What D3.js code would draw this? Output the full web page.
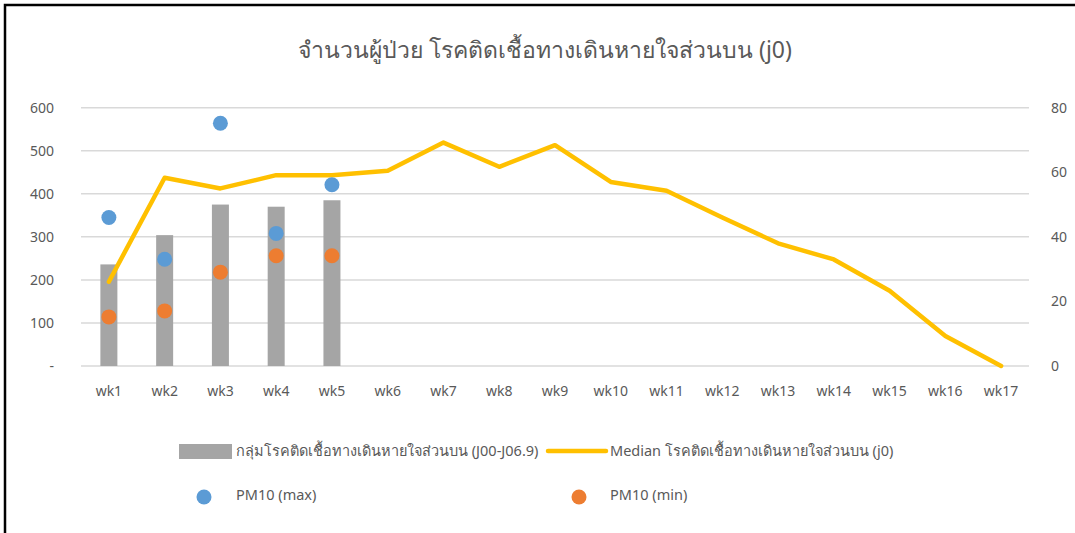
<!DOCTYPE html>
<html>
<head>
<meta charset="utf-8">
<script src="https://cdn.jsdelivr.net/npm/d3@7"></script>
<style>
  body { margin: 0; background: #fff; }
  svg text { font-family: "Noto Sans", "Open Sans", sans-serif; fill: #595959; }
</style>
</head>
<body>
<div id="chart"></div>
<script>
const weeks = d3.range(1, 18).map(d => 'wk' + d);
const patients = [236, 304, 375, 370, 385];
const pm10Max = [345, 248, 564, 308, 421];
const pm10Min = [114, 128, 218, 256, 256];
const median = [26.1, 58.3, 55, 59.1, 59.1, 60.5, 69.2, 61.7, 68.4, 57.0, 54.3, 46, 38.0, 33.0, 23.3, 9.3, 0];
const leftTicks = [0, 100, 200, 300, 400, 500, 600];
const rightTicks = [0, 20, 40, 60, 80];

const W = 1075, H = 533;
const svg = d3.select('#chart').append('svg')
  .attr('width', W).attr('height', H);

// frame (only top + left show in the crop)
svg.append('rect').attr('x', 5).attr('y', 5).attr('width', W + 10).attr('height', H + 10)
  .attr('fill', 'none').attr('stroke', '#000').attr('stroke-width', 2.5);

svg.append('text')
  .attr('x', 545).attr('y', 58)
  .attr('text-anchor', 'middle')
  .attr('font-size', 23)
  .attr('fill', '#666')
  .text('จำนวนผู้ป่วย โรคติดเชื้อทางเดินหายใจส่วนบน (j0)');

const x = d3.scaleBand().domain(weeks).range([81, 1029]);
const yL = d3.scaleLinear().domain([0, 600]).range([366, 107.7]);
const yR = d3.scaleLinear().domain([0, 80]).range([366, 107.7]);

// gridlines
svg.append('g').selectAll('line').data(leftTicks).join('line')
  .attr('x1', 81).attr('x2', 1029)
  .attr('y1', d => yL(d)).attr('y2', d => yL(d))
  .attr('stroke', '#d9d9d9').attr('stroke-width', 1.5);

// left axis labels
const gL = svg.append('g').attr('transform', 'translate(54,0)')
  .call(d3.axisLeft(yL).tickValues(leftTicks).tickSize(0).tickPadding(0)
    .tickFormat(d => d === 0 ? '-' : d));
gL.select('.domain').remove();
gL.selectAll('text').attr('font-size', 14).attr('fill', '#595959');

// right axis labels
const gR = svg.append('g').attr('transform', 'translate(1051,0)')
  .call(d3.axisRight(yR).tickValues(rightTicks).tickSize(0).tickPadding(0));
gR.select('.domain').remove();
gR.selectAll('text').attr('font-size', 14).attr('fill', '#595959');

// x labels
const gX = svg.append('g').attr('transform', 'translate(0,386)')
  .call(d3.axisBottom(x).tickSize(0).tickPadding(0));
gX.select('.domain').remove();
gX.selectAll('text').attr('font-size', 14).attr('fill', '#595959').attr('dy', '0.71em');

// bars
const bw = 17;
svg.append('g').selectAll('rect').data(patients).join('rect')
  .attr('x', (d, i) => x(weeks[i]) + x.bandwidth() / 2 - bw / 2)
  .attr('y', d => yL(d))
  .attr('width', bw)
  .attr('height', d => yL(0) - yL(d))
  .attr('fill', '#a5a5a5');

// median line
const line = d3.line()
  .x((d, i) => x(weeks[i]) + x.bandwidth() / 2)
  .y(d => yR(d));
svg.append('path').datum(median)
  .attr('d', line)
  .attr('fill', 'none')
  .attr('stroke', '#ffc000')
  .attr('stroke-width', 4.5)
  .attr('stroke-linejoin', 'round')
  .attr('stroke-linecap', 'round');

// PM10 dots
svg.append('g').selectAll('circle').data(pm10Max).join('circle')
  .attr('cx', (d, i) => x(weeks[i]) + x.bandwidth() / 2)
  .attr('cy', d => yL(d))
  .attr('r', 7.5).attr('fill', '#5b9bd5');
svg.append('g').selectAll('circle').data(pm10Min).join('circle')
  .attr('cx', (d, i) => x(weeks[i]) + x.bandwidth() / 2)
  .attr('cy', d => yL(d))
  .attr('r', 7.5).attr('fill', '#ed7d31');

// legend
const lg = svg.append('g');
lg.append('rect').attr('x', 179).attr('y', 444).attr('width', 53).attr('height', 15).attr('fill', '#a5a5a5');
lg.append('text').attr('x', 236).attr('y', 456).attr('font-size', 14.5)
  .text('กลุ่มโรคติดเชื้อทางเดินหายใจส่วนบน (J00-J06.9)');
lg.append('line').attr('x1', 548).attr('x2', 606).attr('y1', 451).attr('y2', 451)
  .attr('stroke', '#ffc000').attr('stroke-width', 4.5).attr('stroke-linecap', 'round');
lg.append('text').attr('x', 610).attr('y', 456).attr('font-size', 14.5)
  .text('Median โรคติดเชื้อทางเดินหายใจส่วนบน (j0)');
lg.append('circle').attr('cx', 204).attr('cy', 497).attr('r', 7.5).attr('fill', '#5b9bd5');
lg.append('text').attr('x', 236).attr('y', 500).attr('font-size', 14.5).text('PM10 (max)');
lg.append('circle').attr('cx', 579).attr('cy', 497).attr('r', 7.5).attr('fill', '#ed7d31');
lg.append('text').attr('x', 610).attr('y', 500).attr('font-size', 14.5).text('PM10 (min)');
</script>
</body>
</html>
